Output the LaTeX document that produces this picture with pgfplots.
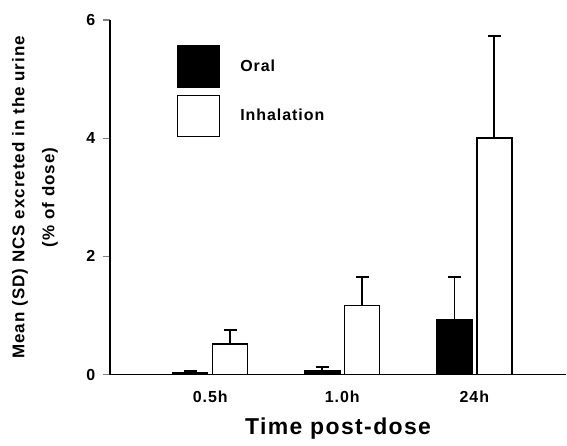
\documentclass[border=0pt]{standalone}
\usepackage{fontspec}
\setmainfont{Liberation Sans}[LetterSpace=6]
\usepackage{pgfplots}
\usepackage{pgfplotstable}
\pgfplotsset{compat=1.18}

% mean and SD (% of dose); bars placed beside category positions 0,1,2
\pgfplotstableread{
pos mean sd
-0.151 0.03 0.03
0.849 0.07 0.06
1.849 0.93 0.72
}\oral
\pgfplotstableread{
pos mean sd
0.151 0.52 0.24
1.151 1.17 0.48
2.151 4.00 1.73
}\inhal

\begin{document}
\begin{tikzpicture}
\begin{axis}[
  scale only axis,
  width=457pt, height=355pt,
  xmin=-0.76, xmax=2.696,
  ymin=0, ymax=6,
  axis lines*=left,
  axis line style={line width=1.4pt},
  ytick={0,2,4,6},
  xtick={0,1,2},
  xticklabels={0.5h,1.0h,24h},
  xtick style={draw=none},
  ytick style={line width=1.2pt},
  tick align=outside,
  major tick length=7pt,
  /pgf/number format/assume math mode=true,
  tick label style={font=\bfseries\fontsize{16}{19}\selectfont},
  xticklabel style={yshift=-6pt},
  yticklabel style={xshift=-4pt},
  ylabel={Mean (SD) NCS excreted in the urine\\(\% of dose)},
  ylabel style={font=\bfseries\fontsize{17}{30}\selectfont, align=center,
    at={(rel axis cs:-0.164,0.5)}, anchor=center},
  xlabel={Time post-dose},
  xlabel style={font=\bfseries\fontsize{23}{28}\selectfont,
    at={(rel axis cs:0.5,-0.152)}, anchor=center},
  legend style={draw=none, fill=none,
    at={(rel axis cs:0.14,0.935)}, anchor=north west,
    font=\bfseries\fontsize{16}{19}\selectfont,
    row sep=7pt, nodes={inner sep=2pt}},
  legend cell align=left,
  legend image code/.code={\draw[#1] (0pt,-20.5pt) rectangle (42pt,20.5pt);},
]
\addplot[ybar, bar width=0.265, bar shift=0, draw=black, fill=black,
  line width=1.4pt,
  error bars/.cd, y dir=plus, y explicit,
  error bar style={line width=1.8pt, black},
  error mark options={rotate=90, mark size=6.5pt, line width=1.8pt, black}]
  table[x=pos, y=mean, y error=sd] {\oral};
\addlegendentry{\hspace{18pt}Oral}
\addplot[ybar, bar width=0.265, bar shift=0, draw=black, fill=white,
  line width=1.4pt,
  error bars/.cd, y dir=plus, y explicit,
  error bar style={line width=1.8pt, black},
  error mark options={rotate=90, mark size=6.5pt, line width=1.8pt, black}]
  table[x=pos, y=mean, y error=sd] {\inhal};
\addlegendentry{\hspace{18pt}Inhalation}
\end{axis}
\path (current axis.south west) ++(-110pt,-71pt) rectangle ++(567pt,446pt);
\end{tikzpicture}
\end{document}
